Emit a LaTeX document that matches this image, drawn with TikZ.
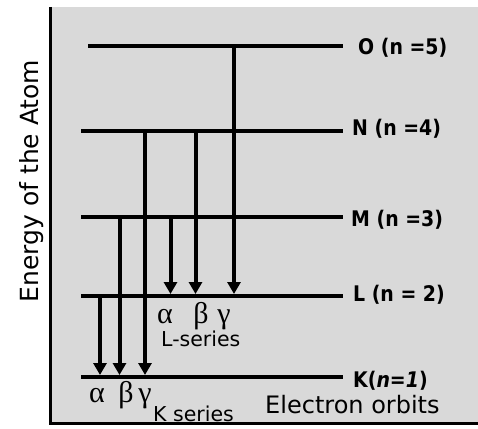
\documentclass[tikz,border=0pt]{standalone}
\usepackage{fontspec}
\setmainfont{DejaVu Sans}
\newfontfamily\labfont[FakeStretch=0.88]{DejaVu Sans}
\newfontfamily\grkfont{Liberation Serif}
\usetikzlibrary{arrows.meta}
\definecolor{panel}{HTML}{D9D9D9}
\begin{document}
\begin{tikzpicture}[x=1pt,y=-1pt,
  levelline/.style={line width=4pt},
  transarrow/.style={line width=4pt,-{Triangle[length=12pt,width=13pt]}},
  lvllabel/.style={anchor=base west,inner sep=0pt,font=\labfont\bfseries\fontsize{21.5}{22}\selectfont},
  greek/.style={anchor=base,inner sep=0pt,font=\grkfont\fontsize{30}{30}\selectfont},
  series/.style={anchor=base west,inner sep=0pt,font=\fontsize{20.5}{21}\selectfont},
  axislabel/.style={anchor=base,inner sep=0pt,rotate=90,font=\fontsize{25}{25}\selectfont}]
\useasboundingbox (0,0) rectangle (478,428);
\fill[white] (0,0) rectangle (478,428);
\fill[panel] (50,7) rectangle (478,423);
\coordinate (tl) at (50,7);
\coordinate (bl) at (50,423);
\coordinate (br) at (478,423);
\draw[line width=3pt] (tl) -- (bl) -- (br);

% levels
\coordinate (O1) at (88,46);  \coordinate (O2) at (343,46);
\coordinate (N1) at (81,131); \coordinate (N2) at (343,131);
\coordinate (M1) at (81,217); \coordinate (M2) at (343,217);
\coordinate (L1) at (81,296); \coordinate (L2) at (343,296);
\coordinate (K1) at (81,377); \coordinate (K2) at (343,377);
\draw[levelline] (O1) -- (O2);
\draw[levelline] (N1) -- (N2);
\draw[levelline] (M1) -- (M2);
\draw[levelline] (L1) -- (L2);
\draw[levelline] (K1) -- (K2);

\node[lvllabel] (Olab) at (358,55) {O (n =5)};
\node[lvllabel] (Nlab) at (352,135) {N (n =4)};
\node[lvllabel] (Mlab) at (351,226) {M (n =3)};
\node[lvllabel] (Llab) at (353,301) {L (n = 2)};
\node[lvllabel] (Klab) at (353,387) {K(\itshape n=1\upshape)};

% K series transitions
\coordinate (KaS) at (100,296); \coordinate (KaE) at (100,375);
\coordinate (KbS) at (119.5,217); \coordinate (KbE) at (119.5,375);
\coordinate (KgS) at (145,131); \coordinate (KgE) at (145,375);
\draw[transarrow] (KaS) -- (KaE);
\draw[transarrow] (KbS) -- (KbE);
\draw[transarrow] (KgS) -- (KgE);
% L series transitions
\coordinate (LaS) at (170.5,217); \coordinate (LaE) at (170.5,294);
\coordinate (LbS) at (195.5,131); \coordinate (LbE) at (195.5,294);
\coordinate (LgS) at (234,46);  \coordinate (LgE) at (234,294);
\draw[transarrow] (LaS) -- (LaE);
\draw[transarrow] (LbS) -- (LbE);
\draw[transarrow] (LgS) -- (LgE);

% labels
\node[greek] (La) at (165,323) {α};
\node[greek] (Lb) at (201,323) {β};
\node[greek] (Lg) at (224,323) {γ};
\node[series] (Lser) at (161,346) {L-series};
\node[greek] (Ka) at (97,402) {α};
\node[greek] (Kb) at (126,402) {β};
\node[greek] (Kg) at (145,402) {γ};
\node[series] (Kser) at (153,421) {K series};
\node[anchor=base west,inner sep=0pt,font=\fontsize{24}{24}\selectfont] (orb) at (265,413) {Electron orbits};
\node[axislabel] (axis) at (38,181) {Energy of the Atom};
\end{tikzpicture}
\end{document}
